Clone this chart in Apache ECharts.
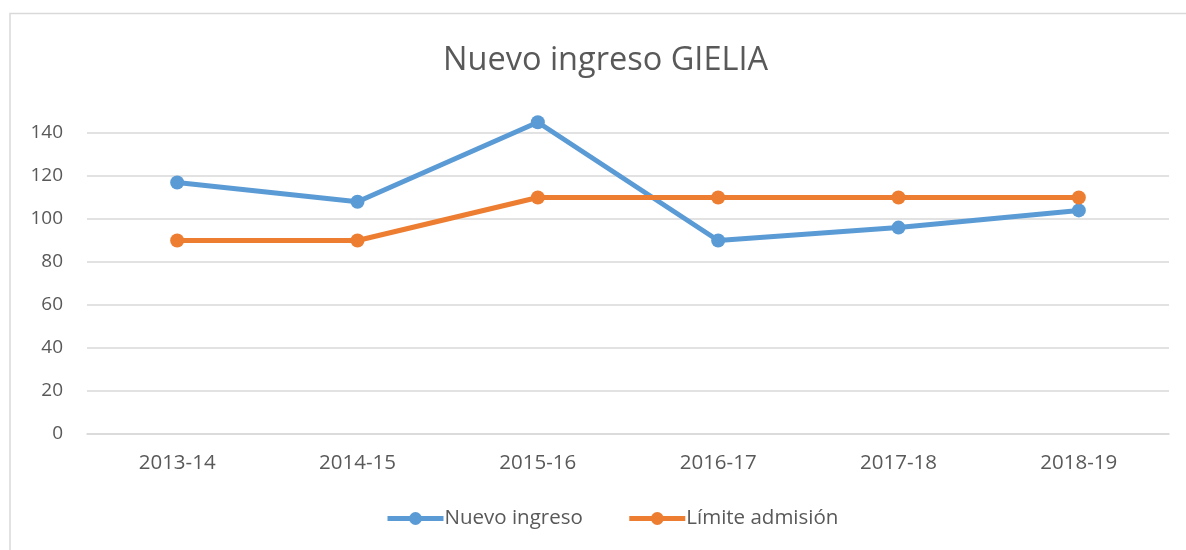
<!DOCTYPE html>
<html style="height: 100%">
<head>
<meta charset="utf-8">
<script type="text/javascript" src="https://cdn.jsdelivr.net/npm/echarts@6/dist/echarts.min.js"></script>
</head>
<body style="height: 100%; margin: 0; background: #fff">
<div id="container" style="width: 1186px; height: 550px"></div>
<script type="text/javascript">
var CURSOS = ['2013-14', '2014-15', '2015-16', '2016-17', '2017-18', '2018-19'];
var NUEVO_INGRESO = [117, 108, 145, 90, 96, 104];
var LIMITE_ADMISION = [90, 90, 110, 110, 110, 110];

var FONT = '"Open Sans", "Noto Sans", sans-serif';
var GRIS = '#595959';

var myChart = echarts.init(document.getElementById('container'));

function serie(nombre, datos, color) {
    return {
        name: nombre,
        type: 'line',
        data: datos,
        clip: false,
        symbol: 'circle',
        symbolSize: 14,
        lineStyle: {width: 5, color: color},
        itemStyle: {color: color}
    };
}

var option = {
    backgroundColor: '#fff',
    animation: false,
    title: {
        text: 'Nuevo ingreso GIELIA',
        left: 438,
        top: 39,
        textStyle: {fontFamily: FONT, fontSize: 32.5, fontWeight: 'normal', color: GRIS}
    },
    graphic: [{
        type: 'polyline',
        shape: {points: [[10, 560], [10, 13.5], [1186, 13.5]]},
        style: {stroke: '#d9d9d9', lineWidth: 1.5, fill: null}
    }],
    legend: {
        bottom: 16,
        left: 380,
        itemWidth: 56,
        itemHeight: 16,
        itemGap: 44,
        lineStyle: {width: 5},
        textStyle: {fontFamily: FONT, fontSize: 20.5, color: GRIS, padding: [0, 0, 0, -4]},
        data: ['Nuevo ingreso', 'Límite admisión']
    },
    grid: {left: 87, right: 17, top: 133, bottom: 116},
    xAxis: {
        type: 'category',
        data: CURSOS,
        axisLine: {lineStyle: {color: '#d9d9d9', width: 1.5}},
        axisTick: {show: false},
        axisLabel: {fontFamily: FONT, fontSize: 20.5, color: GRIS, margin: 19}
    },
    yAxis: {
        type: 'value',
        min: 0,
        max: 140,
        interval: 20,
        axisLine: {show: false},
        axisTick: {show: false},
        axisLabel: {fontFamily: FONT, fontSize: 19, color: GRIS, margin: 24},
        splitLine: {lineStyle: {color: '#d9d9d9', width: 1.5}}
    },
    series: [
        serie('Nuevo ingreso', NUEVO_INGRESO, '#5b9bd5'),
        serie('Límite admisión', LIMITE_ADMISION, '#ed7d31')
    ]
};
myChart.setOption(option);
</script>
</body>
</html>
